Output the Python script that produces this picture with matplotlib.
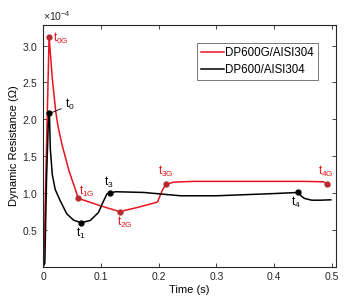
import matplotlib
matplotlib.use("Agg")
import matplotlib.pyplot as plt
from matplotlib.ticker import ScalarFormatter

plt.rcParams['font.family'] = ['Liberation Sans', 'DejaVu Sans']
plt.rcParams['mathtext.default'] = 'regular'

# DP600G/AISI304 (red), resistance in units of 1e-4 ohm
t_g = [0.0, 0.002, 0.0104, 0.016, 0.022, 0.026, 0.033, 0.045, 0.055, 0.061,
       0.08, 0.099, 0.1325, 0.165, 0.198, 0.207, 0.2135, 0.226, 0.26, 0.35,
       0.45, 0.485, 0.491, 0.496]
r_g = [0.0, 0.3, 3.12, 2.55, 2.1, 1.9, 1.65, 1.3, 1.07, 0.93,
       0.88, 0.83, 0.75, 0.81, 0.88, 1.05, 1.12, 1.15, 1.16, 1.16,
       1.16, 1.155, 1.13, 1.105]

# DP600/AISI304 (black)
t_b = [0.0, 0.003, 0.006, 0.009, 0.011, 0.0125, 0.016, 0.021, 0.0295, 0.041,
       0.0527, 0.0654, 0.0816, 0.096, 0.102, 0.1105, 0.115, 0.125, 0.174, 0.238,
       0.3, 0.35, 0.40, 0.4416, 0.447, 0.452, 0.465, 0.48, 0.498]
r_b = [0.0, 0.05, 1.2, 1.95, 2.08, 1.6, 1.25, 1.05, 0.9, 0.72,
       0.635, 0.60, 0.63, 0.74, 0.85, 0.99, 0.996, 1.02, 1.01, 0.965,
       0.965, 0.98, 0.995, 1.01, 0.96, 0.93, 0.905, 0.905, 0.91]

# marked instants
mark_g_t = [0.0104, 0.061, 0.1325, 0.2135, 0.491]
mark_g_r = [3.12, 0.93, 0.75, 1.12, 1.13]
mark_b_t = [0.011, 0.0654, 0.115, 0.4416]
mark_b_r = [2.08, 0.60, 0.996, 1.01]

scale = 1e-4
red = '#e8141e'
dark_red = '#b52a30'

fig = plt.figure(figsize=(3.59, 3.0), dpi=100)
ax = fig.add_axes([0.12, 0.11, 0.816, 0.807])

ax.plot(t_g, [v * scale for v in r_g], color=red, lw=1.1, label='DP600G/AISI304')
ax.plot(t_b, [v * scale for v in r_b], color='black', lw=1.1, label='DP600/AISI304')
ax.plot(mark_g_t, [v * scale for v in mark_g_r], 'o', color=dark_red, ms=3.5)
ax.plot(mark_b_t, [v * scale for v in mark_b_r], 'o', color='black', ms=3.5)

fs = 8.5
ax.text(0.017, 3.1 * scale, '$t_{0G}$', color=red, fontsize=fs, va='center')
ax.annotate('', xy=(0.011, 2.08 * scale), xytext=(0.036, 2.16 * scale),
            arrowprops=dict(arrowstyle='-', color='black', lw=0.6))
ax.text(0.038, 2.2 * scale, '$t_0$', color='black', fontsize=fs, va='center')
ax.text(0.063, 1.02 * scale, '$t_{1G}$', color=red, fontsize=fs, va='center')
ax.text(0.065, 0.45 * scale, '$t_1$', color='black', fontsize=fs, va='center', ha='center')
ax.text(0.113, 1.15 * scale, '$t_3$', color='black', fontsize=fs, va='center', ha='center')
ax.text(0.142, 0.61 * scale, '$t_{2G}$', color=red, fontsize=fs, va='center', ha='center')
ax.text(0.213, 1.29 * scale, '$t_{3G}$', color=red, fontsize=fs, va='center', ha='center')
ax.text(0.49, 1.29 * scale, '$t_{4G}$', color=red, fontsize=fs, va='center', ha='center')
ax.text(0.438, 0.88 * scale, '$t_4$', color='black', fontsize=fs, va='center', ha='center')

ax.set_xlim(0, 0.507)
ax.set_ylim(0, 3.28e-4)
ax.set_xticks([0, 0.1, 0.2, 0.3, 0.4, 0.5])
ax.set_xticklabels(['0', '0.1', '0.2', '0.3', '0.4', '0.5'])
ax.set_yticks([0.5e-4, 1e-4, 1.5e-4, 2e-4, 2.5e-4, 3e-4])
fmt = ScalarFormatter(useMathText=True)
fmt.set_powerlimits((-3, 3))
ax.yaxis.set_major_formatter(fmt)
ax.yaxis.get_offset_text().set_fontsize(7.5)

ax.tick_params(direction='in', length=3, width=0.6, top=True, right=True,
               labelsize=7.5, colors='#262626')
for s in ax.spines.values():
    s.set_linewidth(0.8)
    s.set_color('#262626')

ax.set_xlabel('Time (s)', fontsize=8, labelpad=2)
ax.set_ylabel('Dynamic Resistance (Ω)', fontsize=8, labelpad=2)

leg = ax.legend(loc='upper right', bbox_to_anchor=(0.939, 0.926), fontsize=8.3,
                fancybox=False, edgecolor='#777777', framealpha=1,
                handlelength=2.0, handletextpad=0.1, borderpad=0.35,
                borderaxespad=0, labelspacing=0.45)
leg.get_frame().set_linewidth(0.7)

fig.savefig('out.png', dpi=100)
